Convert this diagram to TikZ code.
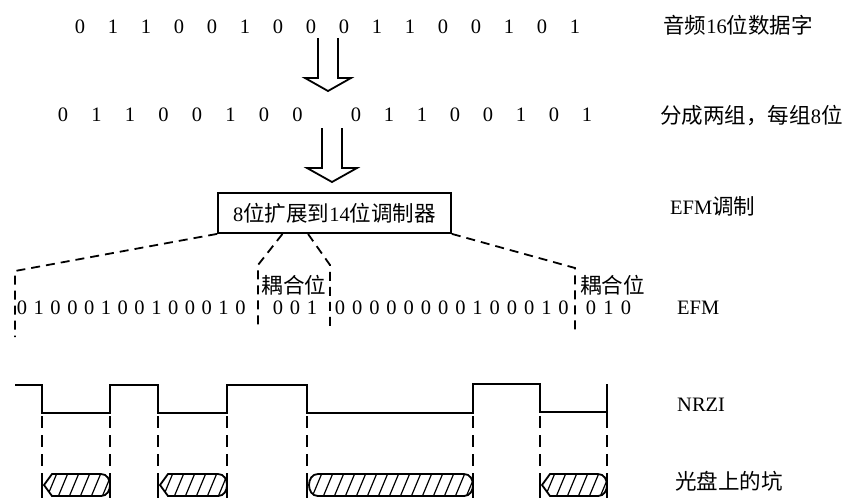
\documentclass[tikz,border=0pt]{standalone}
\usepackage{fontspec}
\setmainfont{Liberation Serif}
\newfontfamily\cjkf{Noto Sans CJK SC}[Scale=1.05]
\newcommand{\cj}[1]{{\cjkf #1}}
\begin{document}
\begin{tikzpicture}[x=1pt,y=-1pt,
  txt/.style={inner sep=0pt, font=\fontsize{20.5}{24}\selectfont},
  lab/.style={txt, anchor=west},
  ln/.style={line width=1.8pt},
  dsh/.style={line width=1.8pt, dash pattern=on 9pt off 6pt},
  dshb/.style={line width=1.8pt, dash pattern=on 12pt off 7pt},
  hatch/.style={line width=1.2pt},
]
\useasboundingbox (0,0) rectangle (842,498);

% ---- row 1: 16-bit word
\foreach \d [count=\i from 0] in {0,1,1,0,0,1,0,0,0,1,1,0,0,1,0,1}
  \node[txt] (ra\i) at ({80+33*\i},27) {\d};
% ---- row 2: two groups of 8
\foreach \d [count=\i from 0] in {0,1,1,0,0,1,0,0}
  \node[txt] (rb\i) at ({63+33.5*\i},115) {\d};
\foreach \d [count=\i from 0] in {0,1,1,0,0,1,0,1}
  \node[txt] (rc\i) at ({356+33*\i},115) {\d};

% ---- right labels
\node[lab] (l1) at (663,25) {\cj{音频}16\cj{位数据字}};
\node[lab] (l2) at (660,116) {\cj{分成两组，每组}8\cj{位}};
\node[lab] (l3) at (670,206) {EFM\cj{调制}};
\node[lab] (l4) at (677,308) {EFM};
\node[lab] (l5) at (677,405) {NRZI};
\node[lab] (l6) at (675,481) {\cj{光盘上的坑}};

% ---- hollow arrows
\coordinate (a1) at (328,38);
\coordinate (a2) at (332,128);
\draw[ln] ([xshift=-10pt]a1) -- ++(0,40) -- ++(-13,0) -- ++(23,13) -- ++(23,-13) -- ++(-13,0) -- ++(0,-40);
\draw[ln] ([xshift=-10pt]a2) -- ++(0,40) -- ++(-15,0) -- ++(25,14) -- ++(25,-14) -- ++(-15,0) -- ++(0,-40);

% ---- modulator box
\node[draw, ln, txt, minimum width=233pt, minimum height=40pt] (mod) at (334.5,213)
  {8\cj{位扩展到}14\cj{位调制器}};

% ---- dashed fan-out
\coordinate (cL) at (15,271);   \coordinate (cLb) at (15,337);
\coordinate (c1) at (258,265);  \coordinate (c1b) at (258,328);
\coordinate (c2) at (330,265);  \coordinate (c2b) at (330,328);
\coordinate (cR) at (575,268);  \coordinate (cRb) at (575,330);
\draw[dsh] (mod.south west) -- (cL) -- (cLb);
\draw[dsh] ([xshift=-52pt]mod.south) -- (c1) -- (c1b);
\draw[dsh] ([xshift=-26.5pt]mod.south) -- (c2) -- (c2b);
\draw[dsh] (mod.south east) -- (cR) -- (cRb);

\node[txt] (cp1) at (294,285) {\cj{耦合位}};
\node[lab] (cp2) at (580,285) {\cj{耦合位}};

% ---- EFM bits
\foreach \d [count=\i from 0] in {0,1,0,0,0,1,0,0,1,0,0,0,1,0}
  \node[txt] (e1\i) at ({22+16.8*\i},308) {\d};
\foreach \d [count=\i from 0] in {0,0,1}
  \node[txt] (e2\i) at ({278+17*\i},308) {\d};
\foreach \d [count=\i from 0] in {0,0,0,0,0,0,0,0,1,0,0,0,1,0}
  \node[txt] (e3\i) at ({340+17.2*\i},308) {\d};
\foreach \d [count=\i from 0] in {0,1,0}
  \node[txt] (e4\i) at ({591+17.5*\i},308) {\d};

% ---- NRZI waveform
\draw[ln] (15,385) -- (42,385) -- (42,413) -- (110,413) -- (110,385) -- (158,385)
  -- (158,413) -- (227,413) -- (227,385) -- (307,385) -- (307,413) -- (473,413)
  -- (473,384) -- (540,384) -- (540,412) -- (607,412);
\draw[ln] (607,384) -- (607,422);

% ---- projection lines
\foreach \x in {42,110,158,227,307,473,540,607}{
  \draw[dshb] (\x,416) -- (\x,474);
  \draw[ln] (\x,474) -- (\x,498);
}

% ---- pits (angular left end, round right end)
\foreach \a/\b in {42/110,158/227,540/607}{
  \begin{scope}
    \clip ({\a+10},474) -- ({\b-9},474) .. controls ({\b+3},474) and ({\b+3},496) .. ({\b-9},496)
      -- ({\a+10},496) -- ({\a+2},485) -- cycle;
    \foreach \h in {0,11,...,88}
      \draw[hatch] ({\a+\h-6},497) -- ({\a+\h+4},473);
  \end{scope}
  \draw[ln] ({\a+10},474) -- ({\b-9},474) .. controls ({\b+3},474) and ({\b+3},496) .. ({\b-9},496)
      -- ({\a+10},496) -- ({\a+2},485) -- cycle;
}
% ---- long pit (both ends round)
\begin{scope}
  \clip (318,474) -- (464,474) .. controls (476,474) and (476,496) .. (464,496)
    -- (318,496) .. controls (306,496) and (306,474) .. (318,474) -- cycle;
  \foreach \h in {0,11,...,187}
    \draw[hatch] ({307+\h-6},497) -- ({307+\h+4},473);
\end{scope}
\draw[ln] (318,474) -- (464,474) .. controls (476,474) and (476,496) .. (464,496)
  -- (318,496) .. controls (306,496) and (306,474) .. (318,474) -- cycle;

\end{tikzpicture}
\end{document}
